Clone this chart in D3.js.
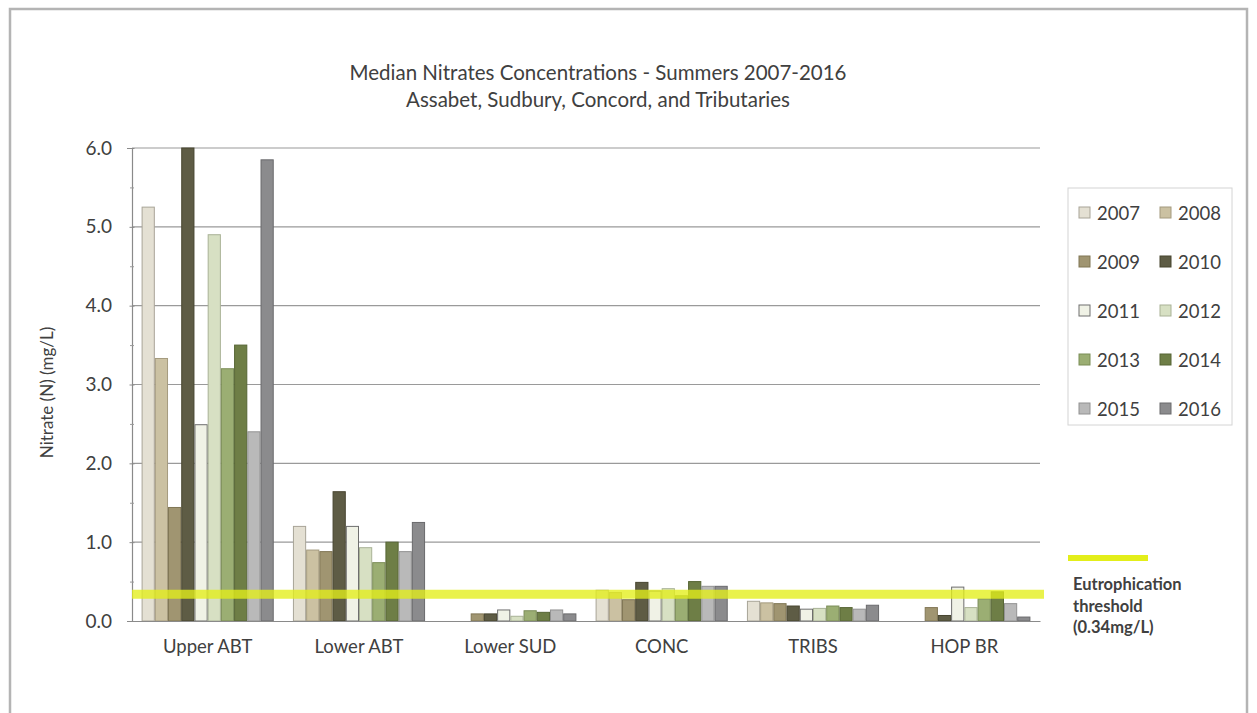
<!DOCTYPE html>
<html>
<head>
<meta charset="utf-8">
<script src="https://cdn.jsdelivr.net/npm/d3@7"></script>
<style>
  html, body { margin: 0; padding: 0; background: #ffffff; }
  svg { display: block; }
  text { font-family: Lato, "Open Sans", sans-serif; fill: #404040; }
</style>
</head>
<body>
<svg id="chart" width="1257" height="713"></svg>
<script>
// ---------------- data ----------------
const categories = ["Upper ABT", "Lower ABT", "Lower SUD", "CONC", "TRIBS", "HOP BR"];
const years = ["2007", "2008", "2009", "2010", "2011", "2012", "2013", "2014", "2015", "2016"];
// values per year, in category order (null = no data)
const v2007 = [5.25, 1.20, null, 0.39, 0.25, null];
const v2008 = [3.33, 0.90, null, 0.36, 0.23, null];
const v2009 = [1.44, 0.88, 0.09, 0.27, 0.22, 0.17];
const v2010 = [6.00, 1.64, 0.09, 0.49, 0.19, 0.07];
const v2011 = [2.49, 1.20, 0.14, 0.38, 0.15, 0.43];
const v2012 = [4.90, 0.93, 0.06, 0.41, 0.16, 0.17];
const v2013 = [3.20, 0.74, 0.13, 0.32, 0.19, 0.28];
const v2014 = [3.50, 1.00, 0.11, 0.50, 0.17, 0.37];
const v2015 = [2.40, 0.88, 0.14, 0.44, 0.15, 0.22];
const v2016 = [5.85, 1.25, 0.09, 0.44, 0.20, 0.05];
const seriesValues = [v2007, v2008, v2009, v2010, v2011, v2012, v2013, v2014, v2015, v2016];
const yTicks = [0, 1, 2, 3, 4, 5, 6];
const threshold = 0.34;
const titleLines = ["Median Nitrates Concentrations - Summers 2007-2016", "Assabet, Sudbury, Concord, and Tributaries"];
const yAxisTitle = "Nitrate (N) (mg/L)";
const thresholdLabel = ["Eutrophication", "threshold", "(0.34mg/L)"];

// ---------------- styles ----------------
const fills   = ["#e4e0d3", "#cbc1a2", "#a09571", "#5e5c45", "#f0f2e6", "#d7e0c3", "#9bae73", "#6e7e46", "#b9b9b9", "#8b8b8d"];
const strokes = ["#a8a497", "#a49a7e", "#807654", "#47452f", "#6e6e6e", "#a9b296", "#7b8d57", "#566534", "#929292", "#6a6a6c"];

const svg = d3.select("#chart");

// outer frame
svg.append("rect").attr("x", 10).attr("y", 9).attr("width", 1237).attr("height", 720)
  .attr("fill", "#fff").attr("stroke", "#b4b4b4").attr("stroke-width", 2.5);

const plot = { left: 132, right: 1040, top: 148, bottom: 621 };

const x0 = d3.scaleBand().domain(categories).range([plot.left, plot.right]).padding(0);
const gap = 9.6;
const x1 = d3.scaleBand().domain(years).range([gap, x0.bandwidth() - gap]).padding(0);
const y = d3.scaleLinear().domain([0, 6]).range([plot.bottom, plot.top]);

// gridlines
svg.append("g").selectAll("line").data(yTicks.filter(d => d > 0)).join("line")
  .attr("x1", plot.left).attr("x2", plot.right)
  .attr("y1", d => y(d)).attr("y2", d => y(d))
  .attr("stroke", "#9a9a9a").attr("stroke-width", 1.2);

// bars
const gSeries = svg.append("g").selectAll("g").data(years).join("g")
  .attr("fill", (d, i) => fills[i]).attr("stroke", (d, i) => strokes[i]);
gSeries.each(function (yr, si) {
  d3.select(this).selectAll("rect")
    .data(categories.map((c, ci) => ({ c, v: seriesValues[si][ci] })).filter(d => d.v != null))
    .join("rect")
    .attr("x", d => x0(d.c) + x1(yr) + 0.5)
    .attr("width", x1.bandwidth() - 1)
    .attr("y", d => y(d.v))
    .attr("height", d => y(0) - y(d.v))
    .attr("stroke-width", 1);
});

// y axis
const yAxis = d3.axisLeft(y).tickValues(yTicks).tickFormat(d3.format(".1f")).tickSize(5).tickPadding(15);
const gy = svg.append("g").attr("transform", `translate(${plot.left},0)`).call(yAxis);
gy.select(".domain").attr("stroke", "#8a8a8a").attr("stroke-width", 1.2);
gy.selectAll(".tick line").attr("stroke", "#8a8a8a").attr("transform", "translate(2.5,0)");
gy.selectAll(".tick text").style("font-size", "19px").style("font-family", "Lato, sans-serif").attr("fill", "#404040");
// minor ticks
const minorAxis = d3.axisLeft(y).tickValues(d3.range(0.5, 6, 1)).tickSize(4).tickFormat("");
const gm = svg.append("g").attr("transform", `translate(${plot.left},0)`).call(minorAxis);
gm.select(".domain").remove();
gm.selectAll(".tick line").attr("stroke", "#9a9a9a").attr("transform", "translate(2,0)");

// x axis
const xAxis = d3.axisBottom(x0).tickSize(0).tickPadding(19);
const gx = svg.append("g").attr("transform", `translate(0,${plot.bottom})`).call(xAxis);
gx.select(".domain").attr("stroke", "#8a8a8a").attr("stroke-width", 1.2);
gx.selectAll(".tick text").style("font-size", "18.5px").style("font-family", "Lato, sans-serif").attr("fill", "#404040");

// threshold line
svg.append("line")
  .attr("x1", plot.left).attr("x2", plot.right + 4)
  .attr("y1", y(threshold)).attr("y2", y(threshold))
  .attr("stroke", "#e3ee1a").attr("stroke-opacity", 0.78).attr("stroke-width", 9);

// title
svg.append("g").selectAll("text").data(titleLines).join("text")
  .attr("x", 598).attr("y", (d, i) => 80 + i * 27)
  .attr("text-anchor", "middle").style("font-size", "20.5px").text(d => d);

// y axis title
svg.append("text")
  .attr("transform", `translate(53,${(plot.top + plot.bottom) / 2 + 8}) rotate(-90)`)
  .attr("text-anchor", "middle").style("font-size", "17px").text(yAxisTitle);

// legend
const lg = svg.append("g");
lg.append("rect").attr("x", 1068).attr("y", 188).attr("width", 164).attr("height", 237)
  .attr("fill", "#fff").attr("stroke", "#d4d4d4").attr("stroke-width", 1);
const items = lg.selectAll("g.item").data(years).join("g").attr("class", "item")
  .attr("transform", (d, i) => `translate(${1079 + (i % 2) * 81},${213 + Math.floor(i / 2) * 49})`);
items.append("rect").attr("x", 0).attr("y", -6).attr("width", 11).attr("height", 11)
  .attr("fill", (d, i) => fills[i]).attr("stroke", (d, i) => strokes[i]).attr("stroke-width", 1);
items.append("text").attr("x", 18).attr("y", 7).style("font-size", "18.5px").text(d => d);

// threshold legend
svg.append("line").attr("x1", 1068).attr("x2", 1148).attr("y1", 558).attr("y2", 558)
  .attr("stroke", "#e3ee1a").attr("stroke-width", 6);
svg.append("g").selectAll("text").data(thresholdLabel).join("text")
  .attr("x", 1073).attr("y", (d, i) => 590 + i * 21.5)
  .style("font-size", "16.5px").style("font-weight", "bold").attr("fill", "#2a2a2a").text(d => d);
</script>
</body>
</html>
